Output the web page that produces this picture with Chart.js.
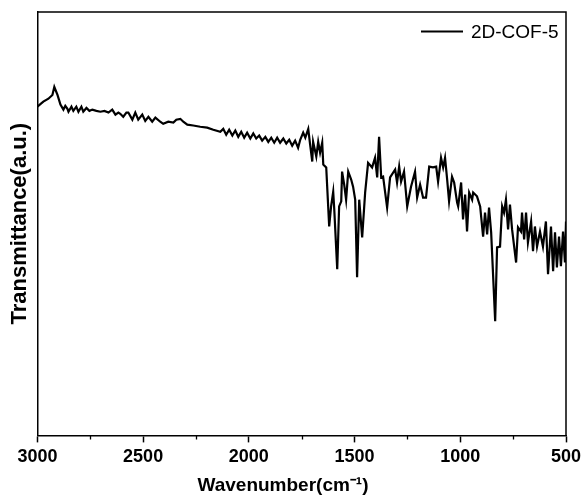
<!DOCTYPE html>
<html>
<head>
<meta charset="utf-8">
<script src="https://cdn.jsdelivr.net/npm/chart.js@4/dist/chart.umd.min.js"></script>
<style>
html,body{margin:0;padding:0;background:#fff;}
#wrap{width:582px;height:500px;}
</style>
</head>
<body>
<div id="wrap"><canvas id="c" width="582" height="500"></canvas></div>
<script>
const seriesLabel = "2D-COF-5";
const xTitle = "Wavenumber(cm\u207B\u00B9)";
const yTitle = "Transmittance(a.u.)";
const xTickValues = [3000, 2500, 2000, 1500, 1000, 500];
const xMinorTicks = [2750, 2250, 1750, 1250, 750];

const wavenumber = [
 3000,2972,2948,2929,2920,2905,2891,2877,2868,2858,2853,2839,2830,2816,2806,2792,2783,2768,2754,2740,
 2721,2702,2683,2664,2646,2631,2617,2608,2594,2579,2570,2551,2537,2523,2504,2490,2475,2457,2442,2419,
 2405,2381,2357,2343,2324,2310,2291,2263,2230,2197,2168,2135,2121,2107,2093,2078,2064,2050,2036,2022,
 2008,1993,1979,1965,1951,1937,1922,1908,1894,1880,1866,1852,1837,1823,1809,1795,1781,1767,
 1757,1743,1733,1719,1710,1700,1696,1681,1672,1663,1653,1648,1634,1620,1611,1601,1596,1582,1573,1563,
 1559,1549,1540,1530,1516,1507,1497,1488,1478,1464,1450,1436,1417,1403,1393,1384,1374,1365,1346,1332,
 1308,1299,1289,1280,1266,1251,1233,1214,1204,1190,1176,1162,1147,1129,1114,1105,1091,1081,1072,1062,
 1053,1039,1029,1015,1010,996,987,977,968,958,944,939,921,906,892,883,873,864,854,835,
 826,812,802,793,784,774,765,755,736,727,713,708,698,689,680,665,656,647,637,623,
 609,595,585,571,561,552,543,533,524,514,505,500
];
const transmittance = [
 77.4,78.6,79.3,80.2,82.1,80.2,77.9,76.7,77.6,76.9,76.2,77.4,76.4,77.4,76.2,77.4,76.2,77.1,76.4,76.7,
 76.4,76.2,76.4,76.0,76.7,75.5,76.0,75.7,75.0,76.0,76.0,74.3,76.0,74.3,75.5,74.0,75.0,73.8,74.8,73.8,
 73.3,73.8,73.6,74.3,74.5,73.8,73.1,72.9,72.6,72.4,71.9,71.4,72.1,70.7,71.9,70.5,71.7,70.2,71.4,70.0,
 71.2,69.8,71.0,69.8,70.5,69.3,70.2,69.0,70.0,68.8,70.0,68.8,69.8,68.6,69.5,68.1,69.3,67.6,
 69.5,71.2,70.0,72.1,68.3,64.3,69.0,65.5,69.0,66.4,68.8,63.6,62.9,48.8,53.6,57.1,52.9,38.6,53.6,54.8,
 61.9,58.8,55.2,61.9,60.0,58.3,55.2,36.7,55.2,46.2,56.9,64.0,62.9,65.2,60.5,70.2,60.5,60.7,53.3,60.5,
 62.4,59.3,63.1,59.5,61.9,53.6,58.3,61.9,55.7,58.8,55.7,55.7,63.1,62.9,63.1,59.5,65.2,62.9,65.2,60.0,
 54.8,60.7,59.3,54.5,53.6,59.3,50.5,56.4,47.6,56.9,55.2,56.9,56.0,53.6,46.4,52.1,46.9,53.3,47.4,26.2,
 43.8,44.0,53.6,52.1,55.2,48.1,54.0,48.1,40.2,48.6,47.6,52.1,45.7,52.1,45.0,50.0,42.9,48.8,44.0,47.6,
 44.0,50.0,37.4,48.8,38.1,47.4,39.0,46.4,39.3,47.6,40.2,50.0
];

const points = wavenumber.map((w, i) => ({x: w, y: transmittance[i]}));
const FONT = 'Liberation Sans, Arial, sans-serif';

const framePlugin = {
  id: 'frame',
  afterDraw(chart) {
    const {ctx, chartArea: a, scales} = chart;
    ctx.save();
    ctx.strokeStyle = '#000';
    ctx.lineWidth = 1.5;
    ctx.beginPath();
    ctx.moveTo(a.left, a.top);
    ctx.lineTo(a.right, a.top);
    ctx.lineTo(a.right, a.bottom);
    ctx.stroke();
    ctx.lineWidth = 1.3;
    ctx.beginPath();
    xMinorTicks.forEach(v => {
      const px = Math.round(scales.x.getPixelForValue(v)) + 0.5;
      ctx.moveTo(px, a.bottom);
      ctx.lineTo(px, a.bottom + 4);
    });
    ctx.stroke();

    // legend (inside plot, top-right)
    const ly = a.top + 19.5;
    const lx2 = a.right - 103;
    ctx.lineWidth = 2.2;
    ctx.beginPath();
    ctx.moveTo(lx2 - 42, ly);
    ctx.lineTo(lx2, ly);
    ctx.stroke();
    ctx.fillStyle = '#000';
    ctx.font = '19px ' + FONT;
    ctx.textBaseline = 'middle';
    ctx.textAlign = 'left';
    ctx.fillText(chart.data.datasets[0].label, lx2 + 8, ly + 1);

    // x axis title
    ctx.font = 'bold 19px ' + FONT;
    ctx.textAlign = 'center';
    ctx.textBaseline = 'middle';
    ctx.fillText(xTitle, 283, 486);
    ctx.restore();
  }
};

new Chart(document.getElementById('c'), {
  type: 'line',
  data: {
    datasets: [{
      label: seriesLabel,
      data: points,
      borderColor: '#000',
      backgroundColor: '#000',
      borderWidth: 2.2,
      pointRadius: 0,
      tension: 0,
      fill: false
    }]
  },
  options: {
    responsive: false,
    animation: false,
    parsing: false,
    layout: {padding: {left: 5, right: 16, top: 12, bottom: 28}},
    plugins: {
      legend: {display: false},
      tooltip: {enabled: false}
    },
    scales: {
      x: {
        type: 'linear',
        reverse: true,
        min: 500,
        max: 3000,
        afterBuildTicks: (s) => { s.ticks = xTickValues.map(v => ({value: v})); },
        afterFit: (s) => { s.paddingLeft = 0; s.paddingRight = 0; },
        ticks: {
          color: '#000',
          font: {family: FONT, size: 18, weight: 'bold'},
          padding: 4,
          maxRotation: 0,
          autoSkip: false,
          callback: (v) => String(v)
        },
        grid: {drawOnChartArea: false, drawTicks: true, tickLength: 7, tickColor: '#000', tickWidth: 1.5},
        border: {display: true, color: '#000', width: 1.5},
        title: {display: false}
      },
      y: {
        min: -1.07,
        max: 100,
        ticks: {display: false},
        grid: {display: false, drawTicks: false},
        border: {display: true, color: '#000', width: 1.5},
        title: {
          display: true,
          text: yTitle,
          color: '#000',
          font: {family: FONT, size: 22, weight: 'bold'},
          padding: {top: 2, bottom: 4}
        }
      }
    }
  },
  plugins: [framePlugin]
});
</script>
</body>
</html>
